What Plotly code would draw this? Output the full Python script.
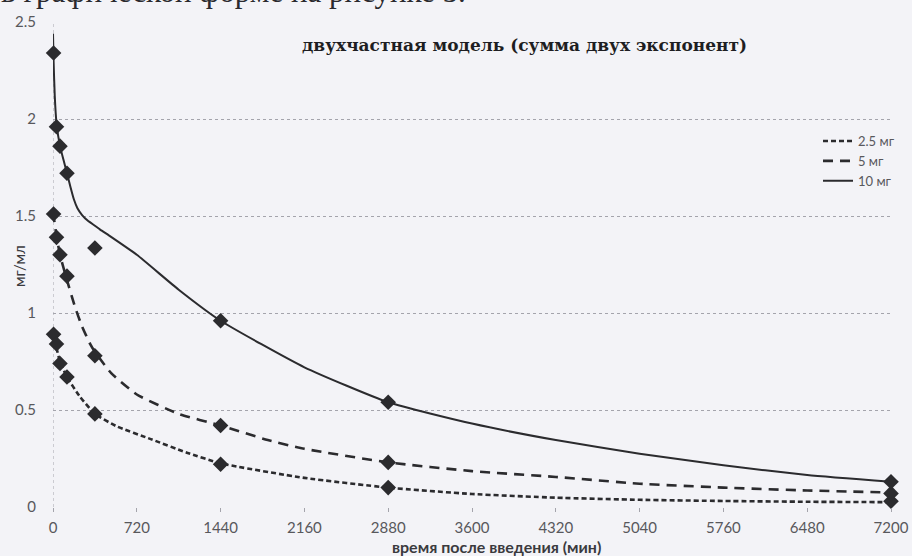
import plotly.graph_objects as go

# --- sampling times (min) and measured concentrations (mg/ml) ---
times = [5, 30, 60, 120, 360, 1440, 2880, 7200]
obs_2_5 = [0.89, 0.84, 0.74, 0.67, 0.48, 0.22, 0.10, 0.03]
obs_5 = [1.51, 1.39, 1.30, 1.19, 0.78, 0.42, 0.23, 0.07]
obs_10 = [2.34, 1.96, 1.86, 1.72, 1.335, 0.96, 0.54, 0.13]

# --- two-compartment model curves, tabulated ---
fit_t_2_5 = [0, 30, 60, 120, 230, 360, 550, 840, 1150, 1440, 2160, 2880,
             3600, 4320, 5040, 5760, 6480, 7200]
fit_c_2_5 = [0.90, 0.82, 0.75, 0.67, 0.57, 0.48, 0.415, 0.35, 0.28, 0.225,
             0.15, 0.10, 0.067, 0.048, 0.037, 0.031, 0.027, 0.025]

fit_t_5 = [0, 30, 60, 120, 190, 250, 320, 360, 500, 720, 1080, 1440, 1845,
           2160, 2880, 3600, 4320, 5040, 5760, 6480, 7200]
fit_c_5 = [1.52, 1.40, 1.30, 1.17, 1.03, 0.93, 0.84, 0.80, 0.69, 0.58, 0.48,
           0.42, 0.345, 0.30, 0.23, 0.185, 0.155, 0.12, 0.10, 0.085, 0.075]

fit_t_10 = [0, 5, 15, 30, 60, 90, 120, 150, 180, 210, 250, 300, 360, 405,
            480, 720, 1080, 1440, 2160, 2880, 3600, 4320, 5040, 5760, 6480,
            7200]
fit_c_10 = [2.44, 2.30, 2.12, 1.98, 1.86, 1.79, 1.72, 1.65, 1.585, 1.54,
            1.505, 1.475, 1.45, 1.43, 1.40, 1.30, 1.12, 0.96, 0.72, 0.54,
            0.43, 0.345, 0.275, 0.215, 0.165, 0.13]

x_ticks = [0, 720, 1440, 2160, 2880, 3600, 4320, 5040, 5760, 6480, 7200]
y_ticks = [0, 0.5, 1, 1.5, 2, 2.5]

series_names = ["2.5 мг", "5 мг", "10 мг"]

INK = "#2b2b2e"
GREY_TEXT = "#58585c"
GRID = "#a4a4ac"
BG = "#f3f3f7"

# page geometry (px)
W, H = 912, 556
L, R, T, B = 53, 21, 22, 49
PW, PH = W - L - R, H - T - B


def px_x(px):
    return (px - L) / PW


def px_y(py):
    return (H - B - py) / PH


fig = go.Figure()

curves = [
    (fit_t_2_5, fit_c_2_5, "5px,3px", 2.6),
    (fit_t_5, fit_c_5, "10px,7px", 2.6),
    (fit_t_10, fit_c_10, "solid", 2.0),
]
for name, (t, c, dash, w) in zip(series_names, curves):
    fig.add_trace(go.Scatter(
        x=t, y=c, mode="lines", name=name,
        line=dict(color=INK, width=w, dash=dash, shape="spline", smoothing=0.5),
    ))

for name, obs in zip(series_names, [obs_2_5, obs_5, obs_10]):
    fig.add_trace(go.Scatter(
        x=times, y=obs, mode="markers", name=name, showlegend=False,
        marker=dict(symbol="diamond", size=12, color=INK),
        cliponaxis=False,
    ))

# dotted vertical axis line at t = 0
fig.add_shape(type="line", xref="x", yref="paper", x0=0, x1=0, y0=0, y1=1,
              line=dict(color=GRID, width=1, dash="dot"), layer="below")

fig.update_layout(
    width=W, height=H,
    margin=dict(l=L, r=R, t=T, b=B, autoexpand=False),
    paper_bgcolor=BG, plot_bgcolor=BG,
    font=dict(family="Lato", color=GREY_TEXT),
    legend=dict(
        xref="container", yref="container",
        x=818 / W, y=1 - 126 / H, xanchor="left", yanchor="top",
        bgcolor="rgba(0,0,0,0)", font=dict(size=13, color=GREY_TEXT),
        itemwidth=30,
    ),
    xaxis=dict(
        range=[0, 7200], tickvals=x_ticks, ticktext=[str(v) for v in x_ticks],
        showgrid=False, zeroline=False, showline=False,
        ticks="outside", ticklen=4, tickcolor=GRID,
        tickfont=dict(size=15, color=GREY_TEXT), ticklabelstandoff=3,
    ),
    yaxis=dict(
        range=[0, 2.5], tickvals=y_ticks, ticktext=["0", "0.5", "1", "1.5", "2", "2.5"],
        showgrid=True, gridcolor=GRID, griddash="dot", gridwidth=1,
        zeroline=False, showline=False,
        tickfont=dict(size=15, color=GREY_TEXT), ticklabelstandoff=16,
    ),
    annotations=[
        dict(text="двухчастная модель (сумма двух экспонент)",
             xref="paper", yref="paper", x=px_x(524), y=px_y(45),
             xanchor="center", yanchor="middle", showarrow=False,
             font=dict(family="DejaVu Serif", size=17, color="#1e1e22",
                       weight="bold")),
        dict(text="время после введения (мин)",
             xref="paper", yref="paper", x=px_x(496), y=px_y(546),
             xanchor="center", yanchor="middle", showarrow=False,
             font=dict(family="Lato", size=16, color="#3a3a3e", weight="bold")),
        dict(text="мг/мл", textangle=-90,
             xref="paper", yref="paper", x=px_x(19), y=px_y(266),
             xanchor="center", yanchor="middle", showarrow=False,
             font=dict(family="Lato", size=15, color="#3a3a3e")),
        dict(text="в графической форме на рисунке 5.",
             xref="paper", yref="paper", x=px_x(-1), y=px_y(11),
             xanchor="left", yanchor="bottom", showarrow=False,
             font=dict(family="Liberation Serif", size=31, color="#2a2a2e")),
    ],
)

fig.write_html("out.html")
